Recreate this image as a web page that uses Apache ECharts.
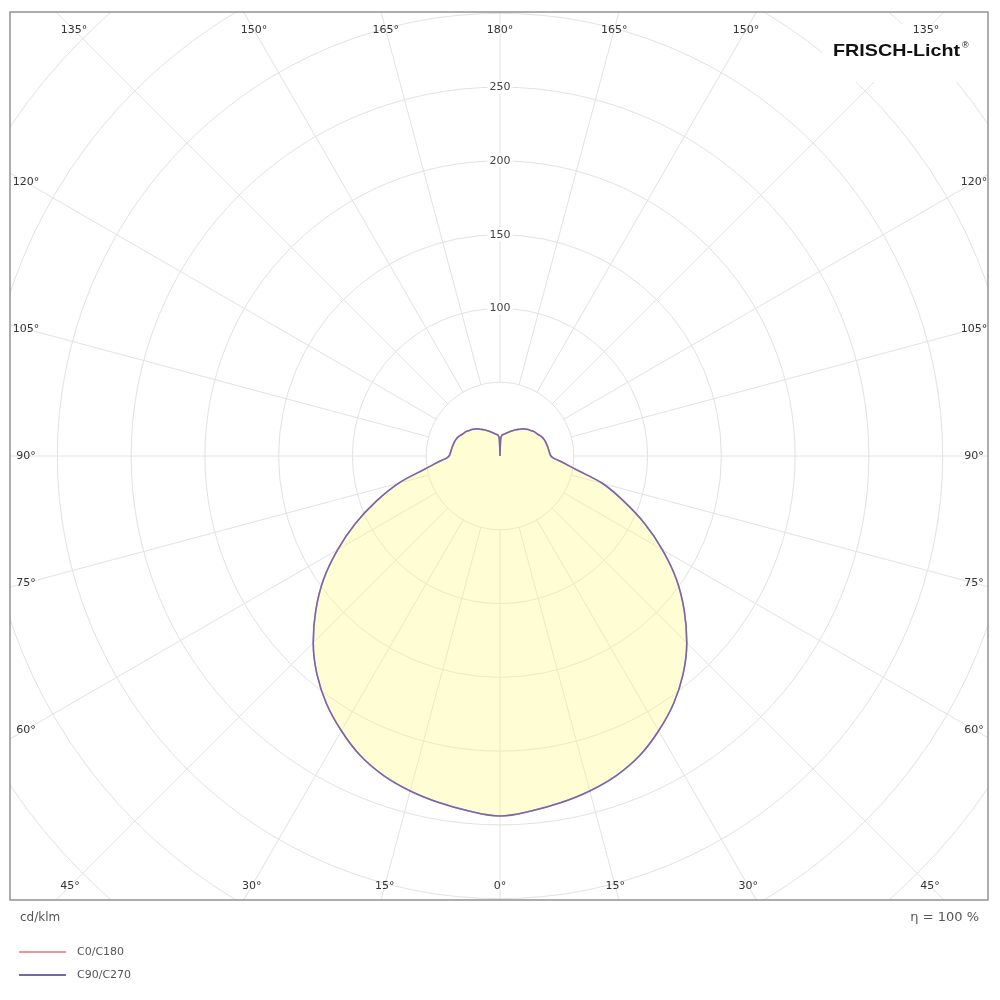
<!DOCTYPE html>
<html><head><meta charset="utf-8">
<script src="https://cdn.jsdelivr.net/npm/echarts@6/dist/echarts.min.js"></script>
<style>html,body{margin:0;padding:0;background:#fff}#c{width:1000px;height:1000px}</style>
</head><body><div id="c"></div>
<script>
// gamma angle from nadir (deg)
const gammaAngles = [0,5,10,15,20,25,30,35,40,45,50,55,60,65,70,75,80,82.5,85,87.5,90,95,100,105,110,115,120,125,130,135,140,145,150,155,160,165,170,175,177.5,180];
// luminous intensity cd/klm, C0 plane (right half) and C180 (left half)
const c0 =   [244,241.5,238.5,235,230.5,224,215,205,193,179,163,146,127,108,89,72,52,46,41,36.5,34.5,33.5,33,32.5,32,31,29.5,28.5,27,25.7,24,22,20.3,18.7,17.2,16,15,14,12,0];
const c180 = [244,241.5,238.5,235,230.5,224,215,205,193,179,163,146,127,108,89,71,52,46,41,36.5,34.5,33.5,33,32.5,32,31,29.5,28.5,27,25.7,24,22,20.3,18.7,17.2,16,15,14,12,0];
const c90 =  [244,241.5,238.5,235,230.5,224,215,205,193,179,163,146,127,108,89,72,52,46,41,36.5,34.5,33.5,33,32.5,32,31,29.5,28.5,27,25.7,24,22,20.3,18.7,17.2,16,15,14,12,0];
const c270 = [244,241.5,238.5,235,230.5,224,215,205,193,179,163,146,127,108,89,71,52,46,41,36.5,34.5,33.5,33,32.5,32,31,29.5,28.5,27,25.7,24,22,20.3,18.7,17.2,16,15,14,12,0];
const ringLabels = [100,150,200,250];
const spokeStep = 15;
const seriesNames = ['C0/C180','C90/C270'];

// build closed curve: right half (angle clockwise from top = 180 - gamma), then left half (180 + gamma)
function buildCurve(right, left){
  const pts = [];
  for (let i = gammaAngles.length - 1; i >= 0; i--) pts.push([right[i], 180 - gammaAngles[i]]);
  for (let i = 1; i < gammaAngles.length; i++) pts.push([left[i], 180 + gammaAngles[i]]);
  return pts;
}

const chart = echarts.init(document.getElementById('c'), null, {renderer:'canvas'});
const CX = 500, CY = 456, R = 664;
const gridColor = '#e2e2e2';
const font = 'DejaVu Sans';

chart.setOption({
  animation: false,
  backgroundColor: '#fff',
  polar: [
    {center:[CX, CY], radius:[R*50/450, R]},
    {center:[CX, CY], radius:[0, R]}
  ],
  angleAxis: [
    {polarIndex:0, type:'value', min:0, max:360, interval:spokeStep, startAngle:90, clockwise:true,
     axisLine:{show:false}, axisTick:{show:false}, axisLabel:{show:false},
     splitLine:{show:true, lineStyle:{color:gridColor, width:1}}},
    {polarIndex:1, type:'value', min:0, max:360, startAngle:90, clockwise:true,
     axisLine:{show:false}, axisTick:{show:false}, axisLabel:{show:false}, splitLine:{show:false}}
  ],
  radiusAxis: [
    {polarIndex:0, type:'value', min:50, max:450, interval:50,
     axisLine:{show:false}, axisTick:{show:false},
     axisLabel:{show:true, customValues:ringLabels, align:'center', verticalAlign:'middle', margin:0,
       color:'#444', fontFamily:font, fontSize:11, backgroundColor:'#fff', padding:[1,2]},
     splitLine:{show:true, lineStyle:{color:gridColor, width:1}}},
    {polarIndex:1, type:'value', min:0, max:450,
     axisLine:{show:false}, axisTick:{show:false}, axisLabel:{show:false}, splitLine:{show:false}}
  ],
  legend: {
    orient:'vertical', left:19, top:945, z:200, padding:0,
    itemWidth:47, itemHeight:2, itemGap:9, icon:'rect',
    textStyle:{fontFamily:font, fontSize:11, color:'#555', lineHeight:14, padding:[0,0,0,6]},
    data: seriesNames
  },
  series: [
    {name:seriesNames[0], type:'line', coordinateSystem:'polar', polarIndex:1,
     data: buildCurve(c0, c180), symbol:'none', smooth:0.35,
     itemStyle:{color:'#e89595'}, lineStyle:{color:'#e89595', width:1.5}, z:3},
    {name:seriesNames[1], type:'line', coordinateSystem:'polar', polarIndex:1,
     data: buildCurve(c90, c270), symbol:'none', smooth:0.35,
     itemStyle:{color:'#7566b4'}, lineStyle:{color:'#7566b4', width:1.6},
     areaStyle:{color:'rgba(255,250,130,0.5)', origin:'start'}, z:4}
  ]
});

// overlay: masks outside frame, frame, angle labels, titles
const c = chart.convertToPixel({polarIndex:1}, [0, 0]) || [CX, CY];
const cx = c[0], cy = c[1];
const box = {x0:26, x1:974, y0:30, y1:886};
const els = [
  {type:'rect', shape:{x:0,y:0,width:1000,height:12}, style:{fill:'#fff'}, z:100, silent:true},
  {type:'rect', shape:{x:0,y:900,width:1000,height:100}, style:{fill:'#fff'}, z:100, silent:true},
  {type:'rect', shape:{x:0,y:0,width:10,height:1000}, style:{fill:'#fff'}, z:100, silent:true},
  {type:'rect', shape:{x:988,y:0,width:12,height:1000}, style:{fill:'#fff'}, z:100, silent:true},
  {type:'rect', shape:{x:10,y:12,width:978,height:888}, style:{fill:null, stroke:'#939393', lineWidth:1.5}, z:110, silent:true},
  {type:'rect', shape:{x:822,y:24,width:164,height:58}, style:{fill:'#fff'}, z:100, silent:true},
  {type:'text', x:833, y:51, scaleX:1.16, style:{text:'FRISCH-Licht', fill:'#111', font:'bold 17px "Liberation Sans", Arial, sans-serif', textVerticalAlign:'middle', textAlign:'left'}, z:150},
  {type:'text', x:962, y:46, style:{text:'®', fill:'#111', font:'9px "Liberation Sans", Arial, sans-serif', textVerticalAlign:'middle', textAlign:'left'}, z:150},
  {type:'text', x:20, y:918, style:{text:'cd/klm', fill:'#555', font:'12px "DejaVu Sans"', textVerticalAlign:'middle', textAlign:'left'}, z:150},
  {type:'text', x:979, y:918, style:{text:'η = 100 %', fill:'#555', font:'13px "DejaVu Sans"', textVerticalAlign:'middle', textAlign:'right'}, z:150}
];
for (let v = 0; v < 360; v += spokeStep) {
  const a = v * Math.PI / 180;
  const dx = Math.sin(a), dy = -Math.cos(a);
  const ts = [];
  if (dx > 1e-9) ts.push((box.x1 - cx) / dx);
  if (dx < -1e-9) ts.push((box.x0 - cx) / dx);
  if (dy > 1e-9) ts.push((box.y1 - cy) / dy);
  if (dy < -1e-9) ts.push((box.y0 - cy) / dy);
  const t = Math.min.apply(null, ts);
  const nadir = Math.abs(180 - v);
  els.push({type:'text', x: cx + t*dx, y: cy + t*dy,
    style:{text: nadir + '°', fill:'#333', font:'11px "DejaVu Sans"', textAlign:'center', textVerticalAlign:'middle'}, z:150});
}
chart.setOption({graphic:{elements:els}});
</script>
</body></html>
